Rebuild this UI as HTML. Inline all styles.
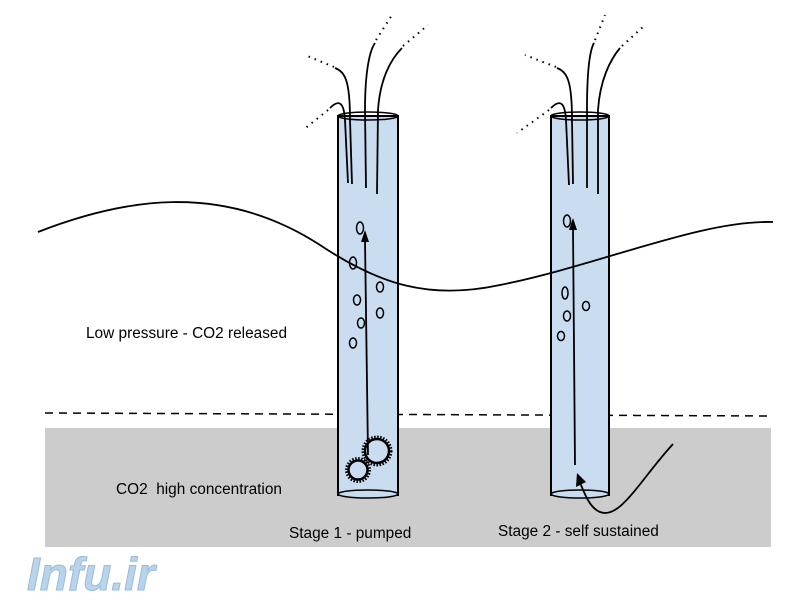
<!DOCTYPE html>
<html><head><style>body{margin:0;background:#fff}svg{display:block}</style></head><body>
<svg width="800" height="600" viewBox="0 0 800 600" xmlns="http://www.w3.org/2000/svg" font-family="Liberation Sans, sans-serif">
<rect x="45" y="428" width="726" height="119" fill="#cccccc"/>
<line x1="45" y1="413" x2="771" y2="416" stroke="#000" stroke-width="1.5" stroke-dasharray="8,6"/>
<rect x="338" y="116" width="60" height="379" fill="#c9dcf0" stroke="#000" stroke-width="2"/>
<ellipse cx="368" cy="116" rx="30" ry="4" fill="none" stroke="#000" stroke-width="1.5"/>
<ellipse cx="368" cy="494" rx="30" ry="4" fill="#c9dcf0" stroke="#000" stroke-width="1.5"/>
<rect x="551" y="116" width="58" height="379" fill="#c9dcf0" stroke="#000" stroke-width="2"/>
<ellipse cx="580" cy="116" rx="29" ry="4" fill="none" stroke="#000" stroke-width="1.5"/>
<ellipse cx="580" cy="494" rx="29" ry="4" fill="#c9dcf0" stroke="#000" stroke-width="1.5"/>
<path d="M38,232 C120,200 220,180 320,245 C380,285 430,300 500,285 C600,265 700,220 773,222" fill="none" stroke="#000" stroke-width="1.8"/>
<g fill="none" stroke="#000" stroke-width="1.8">
<path d="M348,183 L345,120 C344,104 340,98 330,108"/>
<path d="M352,184 L350,120 C350,80 345,72 335,68"/>
<path d="M366,188 L365,110 C365,70 370,50 375,43"/>
<path d="M377,194 L378,110 C380,80 390,60 402,48"/>
<path d="M569,185 L566,120 C565,104 561,98 551,108"/>
<path d="M573,184 L572,120 C572,80 567,72 557,68"/>
<path d="M587,188 L587,110 C587,70 590,50 594,43"/>
<path d="M598,194 L598,110 C600,80 610,60 620,48"/>
</g>
<g fill="none" stroke="#000" stroke-width="2" stroke-dasharray="1.5,5">
<path d="M328,110 L303,130"/><path d="M334,67 L305,55"/><path d="M376,40 L392,15"/><path d="M403,46 L428,25"/>
<path d="M549,110 L517,133"/><path d="M556,67 L525,55"/><path d="M595,40 L605,15"/><path d="M622,46 L645,25"/>
</g>
<g stroke="#000" stroke-width="1.8" fill="none">
<line x1="368" y1="455" x2="365" y2="240"/>
<line x1="575" y1="465" x2="573" y2="228"/>
<path d="M673,444 C640,480 620,520 600,512 C590,508 585,495 579,480"/>
</g>
<polygon points="365,230 361,242 369,242" fill="#000"/>
<polygon points="573,218 569,230 577,230" fill="#000"/>
<polygon points="577,473 576,487 586,482" fill="#000"/>
<g fill="none" stroke="#000" stroke-width="1.5">
<ellipse cx="360" cy="228" rx="3.5" ry="6"/><ellipse cx="353" cy="263" rx="3.5" ry="6"/>
<ellipse cx="357" cy="300" rx="3.5" ry="5"/><ellipse cx="380" cy="287" rx="3.5" ry="5"/>
<ellipse cx="361" cy="323" rx="3.5" ry="5"/><ellipse cx="380" cy="313" rx="3.5" ry="5"/>
<ellipse cx="353" cy="343" rx="3.5" ry="5"/>
<ellipse cx="567" cy="221" rx="3.5" ry="6"/><ellipse cx="565" cy="293" rx="3" ry="6"/>
<ellipse cx="586" cy="306" rx="3.5" ry="4.5"/><ellipse cx="567" cy="316" rx="3.5" ry="5"/>
<ellipse cx="561" cy="336" rx="3.5" ry="4.5"/>
</g>
<g fill="none" stroke="#000">
<circle cx="377" cy="451" r="12" stroke-width="2.5"/><circle cx="377" cy="451" r="14" stroke-width="3" stroke-dasharray="1.5,1.5"/>
<circle cx="358" cy="470" r="9.5" stroke-width="2.5"/><circle cx="358" cy="470" r="11.5" stroke-width="3" stroke-dasharray="1.5,1.5"/>
</g>
<g font-size="15.4" fill="#000">
<text x="86" y="338">Low pressure - CO2 released</text>
<text x="116" y="494">CO2&#160; high concentration</text>
<text x="289" y="538">Stage 1 - pumped</text>
<text x="498" y="536">Stage 2 - self sustained</text>
</g>
<text x="27" y="590" font-size="46" font-weight="bold" font-style="italic" fill="#b8d4ec" stroke="#9bbbd6" stroke-width="1">Infu.ir</text>
</svg>
</body></html>
